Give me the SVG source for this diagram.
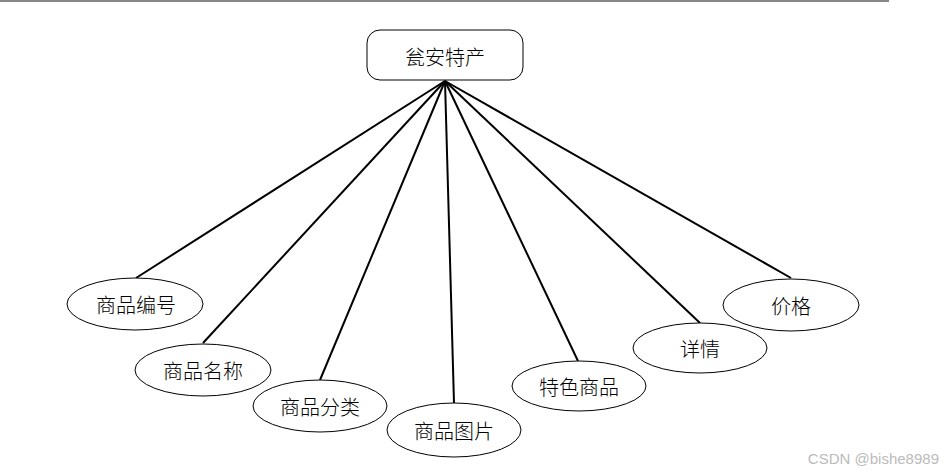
<svg xmlns="http://www.w3.org/2000/svg" width="946" height="474" viewBox="0 0 946 474">
<style>
.e{fill:#fff;stroke:#000;stroke-width:1}
.t{font-family:"Noto Sans CJK SC","Liberation Serif",serif;font-size:20px;font-weight:300;fill:#000;text-anchor:middle;dominant-baseline:central}
.c line{stroke:#000;stroke-width:2}
</style>
<rect width="946" height="474" fill="#fff"/>
<line x1="0" y1="1" x2="889" y2="1" stroke="#888" stroke-width="2"/>
<g class="c" id="connectors">
<line x1="445" y1="81" x2="136" y2="278"/>
<line x1="445" y1="81" x2="203" y2="343"/>
<line x1="445" y1="81" x2="320" y2="380"/>
<line x1="445" y1="81" x2="454" y2="403"/>
<line x1="445" y1="81" x2="578" y2="361"/>
<line x1="445" y1="81" x2="700" y2="323"/>
<line x1="445" y1="81" x2="791" y2="278"/>
</g>
<g id="root"><rect x="367" y="30" width="156" height="50" rx="13" class="e"/><text x="445" y="56" class="t">瓮安特产</text></g>
<g id="n1"><ellipse cx="135" cy="304" rx="68" ry="26" class="e"/><text x="136" y="304" class="t">商品编号</text></g>
<g id="n2"><ellipse cx="203" cy="370" rx="68" ry="26" class="e"/><text x="203" y="370" class="t">商品名称</text></g>
<g id="n3"><ellipse cx="320" cy="406" rx="67" ry="26" class="e"/><text x="320" y="406" class="t">商品分类</text></g>
<g id="n4"><ellipse cx="454" cy="430" rx="67" ry="27" class="e"/><text x="454" y="430" class="t">商品图片</text></g>
<g id="n5"><ellipse cx="579" cy="386" rx="67" ry="25" class="e"/><text x="579" y="386" class="t">特色商品</text></g>
<g id="n6"><ellipse cx="700" cy="348" rx="67" ry="25" class="e"/><text x="700" y="348" class="t">详情</text></g>
<g id="n7"><ellipse cx="791" cy="305" rx="68" ry="26" class="e"/><text x="791" y="305" class="t">价格</text></g>
<text x="939" y="464" font-family="Liberation Sans,Arial,sans-serif" font-size="15" fill="#bbb" text-anchor="end">CSDN @bishe8989</text>
</svg>
